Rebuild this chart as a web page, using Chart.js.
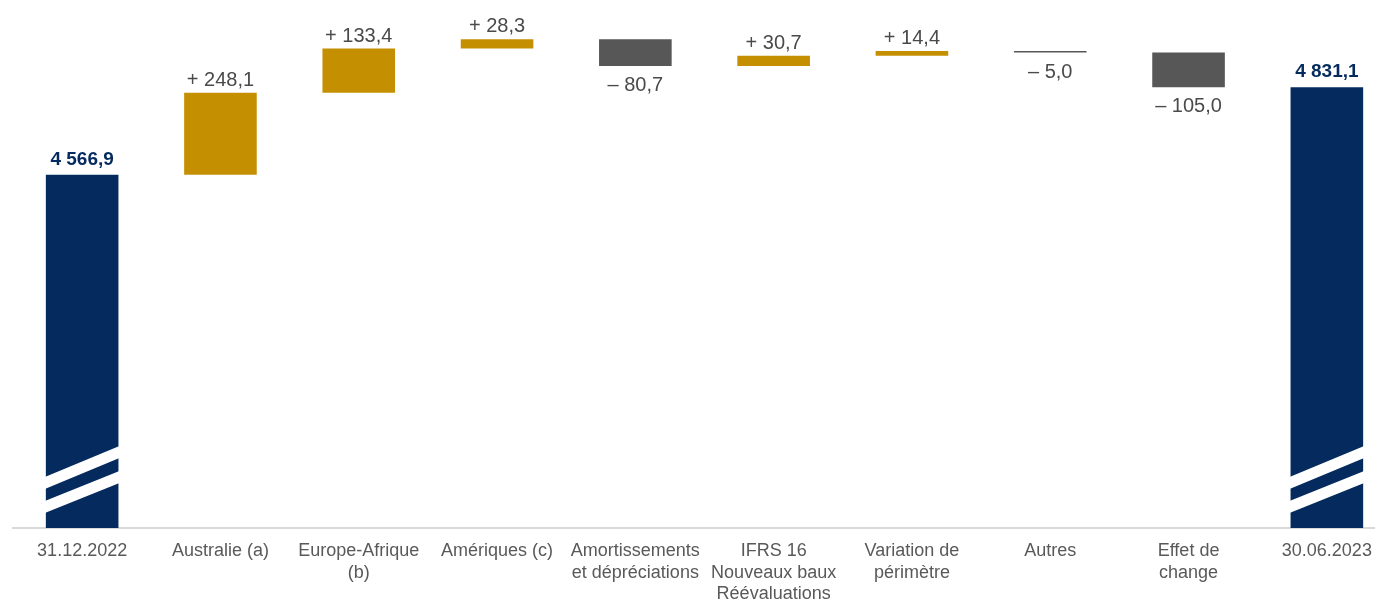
<!DOCTYPE html>
<html lang="fr">
<head>
<meta charset="utf-8">
<title>Variation</title>
<script src="https://cdn.jsdelivr.net/npm/chart.js@4/dist/chart.umd.min.js"></script>
<style>
  html, body { margin: 0; padding: 0; background: #fff; overflow: hidden; }
  #wrap { width: 1396px; height: 601px; }
</style>
</head>
<body>
<div id="wrap"><canvas id="pont" width="1396" height="601"></canvas></div>
<script>
// donnees
const categories = [
    '31.12.2022',
    'Australie (a)',
    ['Europe-Afrique', '(b)'],
    'Amériques (c)',
    ['Amortissements', 'et dépréciations'],
    ['IFRS 16', 'Nouveaux baux', 'Réévaluations'],
    ['Variation de', 'périmètre'],
    'Autres',
    ['Effet de', 'change'],
    '30.06.2023'
];
const valeurOuverture = 4566.9;
const valeurCloture = 4831.1;
const variations = [248.1, 133.4, 28.3, -80.7, 30.7, 14.4, -5.0, -105.0];
const basAxe = 3500; // axe coupe
const hautAxe = 5095;

const BLEU = '#052b5e';
const OR = '#c48f00';
const GRIS = '#575757';

// construction des barres flottantes
const barres = [[basAxe, valeurOuverture]];
const couleurs = [BLEU];
let cumul = valeurOuverture;
variations.forEach(v => {
    const fin = cumul + v;
    barres.push([Math.min(cumul, fin), Math.max(cumul, fin)]);
    couleurs.push(v >= 0 ? OR : GRIS);
    cumul = fin;
});
barres.push([basAxe, valeurCloture]);
couleurs.push(BLEU);

function formatFr(v, milliers) {
    let s = Math.abs(v).toFixed(1).replace('.', ',');
    if (milliers) {
        const p = s.split(',');
        p[0] = p[0].replace(/\B(?=(\d{3})+(?!\d))/g, ' ');
        s = p.join(',');
    }
    return s;
}

const etiquettesPlugin = {
    id: 'etiquettes',
    afterDatasetsDraw(chart) {
        const ctx = chart.ctx;
        const meta = chart.getDatasetMeta(0);
        const n = meta.data.length;
        ctx.save();
        ctx.textAlign = 'center';
        ctx.textBaseline = 'alphabetic';
        meta.data.forEach((bar, i) => {
            const top = Math.min(bar.y, bar.base);
            const bottom = Math.max(bar.y, bar.base);
            if (i === 0 || i === n - 1) {
                const val = i === 0 ? valeurOuverture : valeurCloture;
                ctx.font = 'bold 19px "Liberation Sans", Arial, sans-serif';
                ctx.fillStyle = BLEU;
                ctx.fillText(formatFr(val, true), bar.x, top - 10);

                // coupure de l'axe
                const g = bar.x - bar.width / 2;
                const d = bar.x + bar.width / 2;
                const b = bar.base;
                ctx.fillStyle = '#ffffff';
                [[51, 39, 82, 70], [27, 15, 57, 45]].forEach(s => {
                    ctx.beginPath();
                    ctx.moveTo(g - 1, b - s[0]);
                    ctx.lineTo(d + 1, b - s[2]);
                    ctx.lineTo(d + 1, b - s[3]);
                    ctx.lineTo(g - 1, b - s[1]);
                    ctx.closePath();
                    ctx.fill();
                });
            } else {
                const v = variations[i - 1];
                ctx.font = '20px "Liberation Sans", Arial, sans-serif';
                ctx.fillStyle = '#4a4a4a';
                if (v >= 0) {
                    ctx.fillText('+ ' + formatFr(v, false), bar.x, top - 7);
                } else {
                    ctx.fillText('\u2013 ' + formatFr(v, false), bar.x, bottom + 25);
                }
            }
        });
        ctx.restore();
    }
};

new Chart(document.getElementById('pont').getContext('2d'), {
    type: 'bar',
    data: {
        labels: categories,
        datasets: [{
            data: barres,
            backgroundColor: couleurs,
            borderWidth: 0,
            borderSkipped: false,
            categoryPercentage: 1,
            barPercentage: 0.525
        }]
    },
    options: {
        responsive: false,
        animation: false,
        devicePixelRatio: 1,
        layout: { padding: { left: 13, right: 0, top: 0, bottom: 0 } },
        plugins: {
            legend: { display: false },
            tooltip: { enabled: false }
        },
        scales: {
            y: {
                display: false,
                min: basAxe,
                max: hautAxe
            },
            x: {
                grid: { display: false, drawTicks: false },
                border: { display: true, color: '#d9d9d9', width: 2 },
                ticks: {
                    color: '#595959',
                    padding: 13,
                    maxRotation: 0,
                    autoSkip: false,
                    font: { family: '"Liberation Sans", Arial, sans-serif', size: 18, lineHeight: 1.17 }
                },
                afterFit(scale) {
                    scale.height = 73;
                }
            }
        }
    },
    plugins: [etiquettesPlugin]
});
</script>
</body>
</html>
